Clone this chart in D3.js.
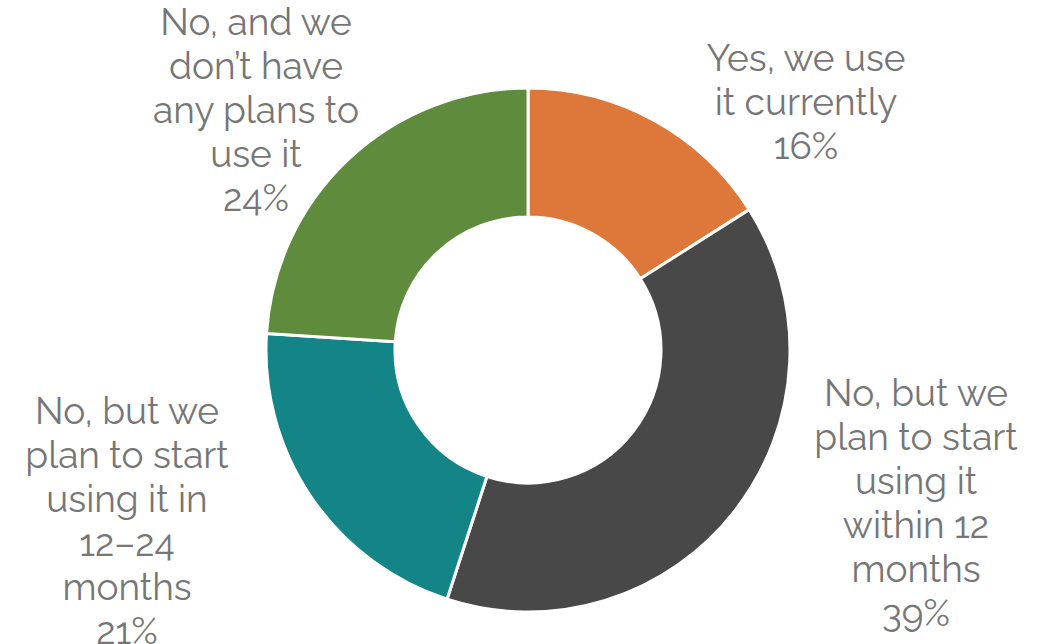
<!DOCTYPE html>
<html>
<head>
<meta charset="utf-8">
<script src="https://cdn.jsdelivr.net/npm/d3@7"></script>
<style>
  html, body { margin: 0; padding: 0; background: #fff; }
  svg { display: block; }
  .label { font-family: "Raleway", "Lato", "Open Sans", sans-serif; font-weight: 400; font-size: 37px; fill: #767676; }
</style>
</head>
<body>
<svg id="chart" width="1045" height="644"></svg>
<script>
// Survey answers, clockwise from twelve o'clock
const categories = [
  "Yes, we use it currently",
  "No, but we plan to start using it within 12 months",
  "No, but we plan to start using it in 12\u201324 months",
  "No, and we don\u2019t have any plans to use it"
];
const shares = [16, 39, 21, 24];
const sliceColors = ["#DD783A", "#484848", "#138587", "#5F8B3D"];

// Wrapped label lines as laid out beside each slice
const labelLines = [
  ["Yes, we use", "it currently"],
  ["No, but we", "plan to start", "using it", "within 12", "months"],
  ["No, but we", "plan to start", "using it in", "12\u201324", "months"],
  ["No, and we", "don\u2019t have", "any plans to", "use it"]
];
// Label block anchors (centre x, first line centre y)
const labelAnchors = [[806, 58], [916, 393], [127, 411], [256, 22]];

const svg = d3.select("#chart");
const cx = 528, cy = 350, outerR = 262, innerR = 133;

const pie = d3.pie().sort(null).value(d => d)(shares);
const arc = d3.arc().innerRadius(innerR).outerRadius(outerR);

const g = svg.append("g").attr("transform", `translate(${cx},${cy})`);
g.selectAll("path")
  .data(pie)
  .join("path")
  .attr("d", arc)
  .attr("fill", (d, i) => sliceColors[i])
  .attr("stroke", "#fff")
  .attr("stroke-width", 3)
  .attr("stroke-linejoin", "round");

const lineH = 44;
pie.forEach((d, i) => {
  const [x, y0] = labelAnchors[i];
  const lines = labelLines[i].concat([d3.format(".0f")(d.data) + "%"]);
  const t = svg.append("text")
    .attr("class", "label")
    .attr("text-anchor", "middle");
  lines.forEach((ln, k) => {
    t.append("tspan")
      .attr("x", x)
      .attr("y", y0 + k * lineH)
      .attr("dy", "0.35em")
      .text(ln);
  });
});
</script>
</body>
</html>
